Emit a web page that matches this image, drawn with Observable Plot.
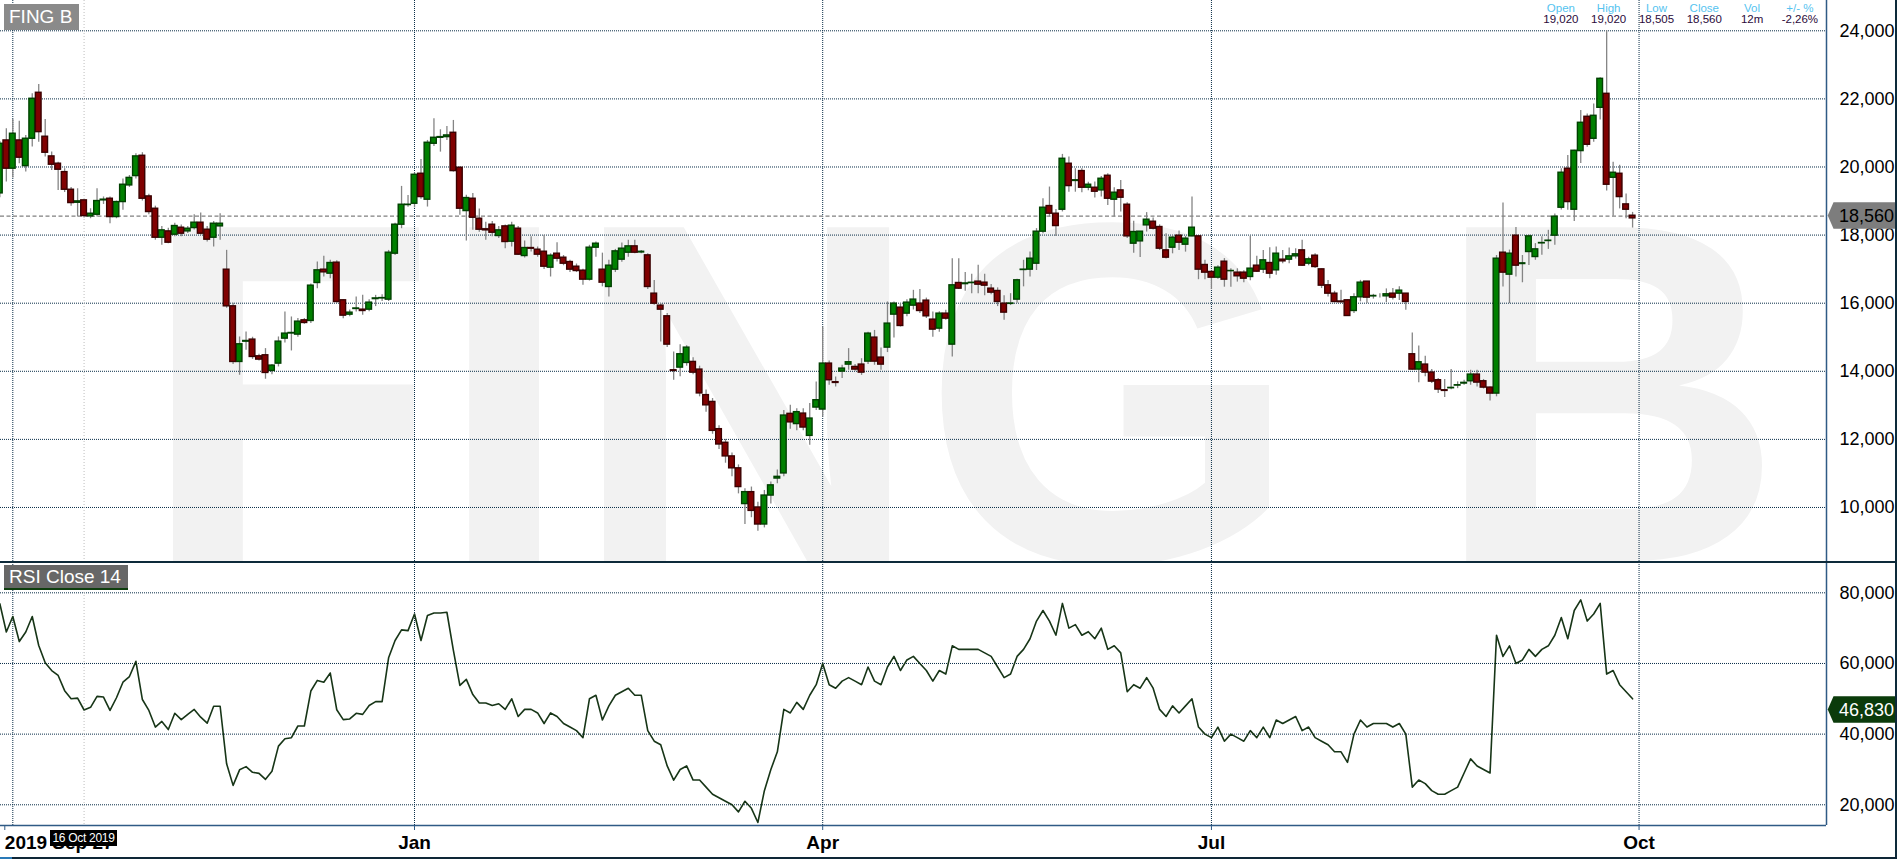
<!DOCTYPE html>
<html><head><meta charset="utf-8">
<script src="https://cdn.jsdelivr.net/npm/d3@7"></script>
<script src="https://cdn.jsdelivr.net/npm/@observablehq/plot@0.6"></script>
<style>
html,body{margin:0;padding:0;background:#fff}
#wrap{position:relative;width:1897px;height:859px;overflow:hidden;font-family:"Liberation Sans",Arial,sans-serif}
#wrap svg{overflow:hidden;display:block}
.abs{position:absolute}
#hdr{position:absolute;left:1537px;top:3px;display:flex}
#hdr .c{width:47.8px;text-align:center;font-size:11.5px;line-height:10.5px;white-space:nowrap}
#hdr .l{color:#55c3ef}
#hdr .v{color:#2b0b3b}
</style></head><body>
<div id="wrap">
  <div id="pricePanel" class="abs" style="left:0;top:0"></div>
  <div id="rsiPanel" class="abs" style="left:0;top:562px"></div>
  <div class="abs" style="left:0;top:561px;width:1897px;height:2px;background:#0d2a3a"></div>
  <div class="abs" style="left:1895px;top:0;width:2px;height:859px;background:#0d2a3a"></div>
  <div class="abs" style="left:0;top:857px;width:1897px;height:2px;background:#0e2636"></div>
  <div class="abs" style="left:0;top:857px;width:12px;height:2px;background:#2a7ab8"></div>
  <div class="abs" style="left:4px;top:4px;width:75px;height:26px;background:#8a8a8a;color:#fff;font-size:19px;line-height:26px;text-indent:5px">FING B</div>
  <div class="abs" style="left:4px;top:565px;width:124px;height:23px;border-bottom:2px solid #0d3d0d;background:#676767;color:#fff;font-size:19px;line-height:23px;text-indent:5px;white-space:nowrap">RSI Close 14</div>
  <div id="hdr"></div>
  <div id="tip" class="abs" style="left:50px;top:830px;width:67px;height:16px;background:#000;color:#fff;font-size:12px;letter-spacing:-0.3px;line-height:16px;text-align:center;white-space:nowrap"></div>
</div>
<script>
// ---------- data ----------
const openVals = [
19225,20780,19950,20780,20026,20830,22180,20889,20311,20097,
19850,19332,18950,19020,18549,18598,19020,19068,18530,18970,
19459,19733,20330,19136,18774,17923,18109,18011,18217,18109,
18207,18364,18158,17923,18256,16984,15908,14274,14870,14930,
14440,14470,14010,14225,14959,15110,15077,15497,15478,16593,
16984,16867,17190,16085,15663,15830,15810,15810,16120,16140,
16104,17454,18305,18882,18921,19802,19039,20683,20858,20878,
21005,19978,18706,19068,18481,18170,18305,17973,18256,17806,
18188,17385,17620,17571,17512,17043,17454,17336,17209,17072,
16955,16691,17630,16984,16476,16984,17278,17483,17669,17490,
17405,16280,15928,15615,14030,14108,14245,14275,14050,13300,
13100,12300,11900,11500,11150,10100,10450,10000,9500,10350,
10850,11000,12750,12450,12758,12103,12935,12876,14226,13680,
13991,14196,14128,14197,14284,14989,14402,14695,15664,15869,
15693,15928,15987,16075,15517,15253,15693,14783,16593,16560,
16590,16633,16603,16427,16358,15987,15980,16105,16975,16985,
17160,18100,18853,18628,18745,20096,19590,19880,19391,19391,
19313,19743,19039,19313,18892,17748,17816,18286,18393,18237,
17552,17630,17983,17718,17963,17963,17122,16917,16750,17219,
16940,16897,16897,16770,17102,16985,17180,16965,17278,17278,
17376,17552,17161,17395,16994,16525,16280,16050,16085,15771,
16173,16633,16200,16232,16202,16280,16280,16280,14500,14050,
14197,13962,13737,13443,13502,13580,13640,13707,13903,13707,
13521,13345,17483,16838,17983,17150,17503,17356,17757,17826,
17983,18804,19949,18745,20467,21475,20829,21739,22150,19684,
19802,18902,18569];
const highVals = [
20750,21124,21397,21347,20927,22151,22424,21397,20437,20143,
19950,19400,19361,19020,18774,19361,19120,19120,19000,19650,
19750,20390,20420,19200,18850,18250,18200,18350,18300,18250,
18600,18650,18250,18400,18630,17552,16000,15008,15155,15000,
14500,14666,14200,15008,15742,15595,15550,15550,16560,17209,
17376,17258,17250,16100,15800,16182,16231,16100,16230,16250,
17550,18350,19430,19166,19830,20222,20780,21416,21093,21191,
21367,20000,19170,19220,18770,18380,18400,18250,18300,18380,
18250,17825,17950,17650,17992,17450,17777,17400,17260,17150,
17000,17700,17800,17470,17260,17580,17770,17850,17850,17550,
17450,16670,15990,15700,14568,14780,14750,14400,14150,13450,
13200,12400,12000,11600,11250,10550,10600,10150,10500,10750,
11100,12850,13000,12900,12900,13052,13688,15302,14300,13830,
14180,14666,14200,14370,15150,15200,14686,16036,16036,15987,
16100,16378,16400,16150,15740,15750,15790,17307,17307,16900,
16850,17112,16850,16550,16450,16220,16280,16700,17260,17500,
18190,19068,19411,18750,20370,20290,19950,19950,19550,19560,
19720,19800,19390,19600,18950,18410,18100,18660,18500,18300,
18040,17990,18120,17960,19117,17970,17260,16950,17100,17310,
17010,17010,16950,17963,17380,17550,17630,17650,17550,17620,
17600,17846,17350,17450,17000,16670,16350,16380,16100,16280,
16670,16640,16260,16280,16420,16430,16480,16280,15126,14740,
14440,14050,13790,13760,14050,13690,13740,14030,14030,13760,
13540,17400,18941,17560,18220,17400,18000,17750,17950,18140,
18620,19950,20340,20490,21660,21560,21850,22620,23999,20140,
20050,19210,18667];
const lowVals = [
19100,19556,19674,20097,19850,20584,20730,20290,19900,19310,
19250,18850,18530,18505,18481,18530,18900,18334,18480,18730,
19400,19650,19000,18600,17850,17698,17747,17950,17950,18050,
18150,17990,17800,17650,17845,15850,14200,13883,14617,14350,
14300,13766,13900,14128,14832,14597,15000,15380,15400,16427,
16769,16720,16000,15546,15600,15742,15644,15750,15900,16050,
16050,17400,18188,18820,18800,19050,18824,20600,20437,20780,
19850,18580,17826,18139,18080,17850,17950,17900,17600,17650,
17400,17330,17500,17350,16990,16769,17210,17100,16900,16900,
16530,16650,17351,16480,16182,16900,17200,17350,17450,17450,
16400,15940,14862,14700,13737,13840,14150,13900,13250,12800,
12150,11700,11300,10900,10400,9500,9700,9300,9400,10100,
10700,10900,12300,12250,12250,11829,12850,12660,13590,13540,
13790,14030,14000,13880,14200,14177,14030,14550,14980,15300,
15600,15800,15700,15550,15000,15150,15500,14421,16400,16350,
16280,16280,16220,16250,15900,15500,15930,16000,16480,16770,
16960,18040,18530,17960,18680,19260,19260,19240,19300,19090,
19120,18870,18530,18680,17900,17470,17340,18090,18150,17550,
17300,17450,17550,17500,17950,16690,16690,16400,16700,16470,
16470,16620,16600,16660,16900,16870,16720,16820,17160,17160,
17300,17080,17100,17020,16430,16180,16000,15990,15620,15700,
16040,15990,16120,16150,16020,16090,16080,15790,14030,13660,
13840,13640,13350,13230,13460,13490,13590,13590,13540,13480,
13130,13250,16476,15987,16770,16600,17110,17260,17410,17580,
17700,18740,18730,18400,20100,20580,20730,21380,19293,18550,
18770,18480,18207];
const closeVals = [
20683,19950,20977,20273,20830,22004,21024,20419,20067,19920,
19332,18941,18990,18560,18628,19000,19040,18530,18970,19479,
19680,20311,19068,18677,17923,18139,17777,18266,18041,18187,
18364,18041,17865,18334,18334,15908,14274,14793,14890,14421,
14343,13951,14167,14871,15106,15125,15458,15419,16515,16965,
16906,17180,16035,15634,15722,15845,15771,16016,16140,16150,
17483,18305,18892,18892,19772,19117,20712,20858,20878,20927,
19880,18775,19088,18510,18158,18139,18070,18139,17797,18276,
17425,17620,17600,17425,17072,17395,17307,17160,16985,16945,
16691,17630,17747,16603,17102,17522,17601,17669,17483,17510,
16476,15986,15810,14783,14010,14500,14695,13960,13350,13000,
12250,11850,11500,11150,10600,10450,9900,9500,10350,10650,
10900,12700,12500,12800,12348,12612,13150,14226,13737,13658,
14079,14265,14050,13961,15106,14284,14196,15400,15987,15331,
16016,16105,15771,15615,15224,15693,15546,16525,16427,16580,
16600,16544,16515,16310,16036,15723,15990,16672,16985,17307,
18100,18804,18628,18266,20242,19440,19610,19391,19479,19274,
19655,19068,19245,19098,17963,18090,18100,18452,18188,17601,
17337,17924,17777,17895,18217,16985,16897,16750,17043,16691,
16946,16790,16720,17014,16926,17259,16867,17454,17229,17376,
17435,17102,17288,17063,16515,16280,16036,16030,15624,16173,
16603,16163,16212,16232,16261,16163,16368,16036,14050,14265,
13962,13697,13463,13424,13512,13590,13660,13903,13668,13521,
13345,17307,16897,17454,17102,17170,17963,17581,17767,17836,
18541,19832,18970,20477,21299,20653,21504,22590,19479,19831,
19117,18745,18491];
const rsiVals = [
76.9,68.9,73.3,66.2,68.9,73.3,65.1,60.2,58.0,56.6,
52.3,50.0,50.2,46.83,47.6,50.7,50.5,46.7,50.3,54.7,
56.3,60.6,49.8,46.7,42.0,43.6,41.3,45.9,44.1,45.6,
47.0,44.8,43.1,47.9,47.9,31.6,25.5,29.9,30.8,29.2,
28.9,27.2,29.5,36.6,38.7,39.0,42.3,42.3,52.2,55.2,
54.7,57.3,46.9,44.1,44.3,45.9,45.6,48.1,49.2,49.2,
61.6,66.5,69.5,69.3,74.0,66.5,73.6,74.3,74.3,74.5,
63.7,53.8,55.5,51.2,48.8,48.8,48.1,48.6,
47,50,45,47,47,46,43,46,45,43,
42,41,39,50,51,44,48,51,52,53,
51,51,41,38,37,31,27,30,31,27,
27,25,23,22,21,20,18,21,19,15,
24,30,35,47,46,49,47,51,54,60,
54,53,55,56,55,54,59,55,54,59,
62,58,61,62,60,58,55,58,57,65,
64,64,64,64,63,62,59,56,57,62,
64,67,72,75,72,68,77,70,71,68,
69,67,70,64,65,63,52,54,53,56,
53,47,45,48,46,48,50,42,40,39,
42,38,40,39,38,41,39,42,39,44,
43,44,45,41,42,39,38,37,35,35,
32,40,44,42,43,43,43,42,43,40,
25,27,26,24,23,23,24,25,29,33,
31,30,29,68,62,65,60,61,64,62,
64,65,68,73,67,75,78,72,74,77,
57,58,54,52,50];

const priceTicks = [10000,12000,14000,16000,18000,20000,22000,24000];
const rsiTicks = [20,40,60,80];
const firstTickIdx = 2;              // 1 Oct 2019 (trading-day index)
const firstTickLabel = "2019 Sep 27";
const dateTickIdx = [64,127,187,253]; // 2 Jan, 1 Apr, 1 Jul, 1 Oct 2020
const dateTickLabels = ["Jan","Apr","Jul","Oct"];
const hoverIdx = 13;                  // 16 Oct 2019
const hoverDate = "16 Oct 2019";
const hoverVol = "12m";
const hoverPct = "-2,26%";
const symbol = "FING B";

// ---------- build ----------
const candles = openVals.map((o,i)=>({i, open:o, high:highVals[i], low:lowVals[i], close:closeVals[i]}));
const rsi = rsiVals.map((v,i)=>({i, v}));
const xDomain = [0.1, 281.93];
const FONT = "'Liberation Sans', Arial, sans-serif";
const grid = {stroke:"#0a2e48", strokeDasharray:"1,1", strokeWidth:1};
const border = {stroke:"#2f5a85", strokeWidth:1.5};
const fmt = d3.format(",");

const price = Plot.plot({
  width:1897, height:562, marginLeft:0, marginRight:71, marginTop:0, marginBottom:0,
  style:{fontFamily:FONT, fontSize:"18px", background:"#fff", overflow:"hidden"},
  x:{domain:xDomain, axis:null},
  y:{domain:[8384, 24890], axis:null},
  marks:[
    Plot.text([symbol], {frameAnchor:"bottom-left", textAnchor:"start", lineAnchor:"bottom", dx:140, dy:-1.6,
      fontSize:485, fontWeight:"bold", fontFamily:FONT, fill:"#f2f2f2"}),
    Plot.ruleY(priceTicks, grid),
    Plot.ruleX([firstTickIdx, ...dateTickIdx], grid),
    Plot.ruleX([hoverIdx], {stroke:"#bdbdbd", strokeDasharray:"1,2"}),
    Plot.ruleY([closeVals[hoverIdx]], {stroke:"#808080", strokeDasharray:"4,2.5", strokeWidth:1.3}),
    Plot.ruleX(candles, {x:"i", y1:"low", y2:"high", stroke:"#858585", strokeWidth:1.3}),
    Plot.rect(candles, {filter:d=>d.close>=d.open, x1:d=>d.i-0.5, x2:d=>d.i+0.5, y1:"open", y2:"close",
      insetLeft:0.4, insetRight:0.4, fill:"#008000", stroke:"#004000", strokeWidth:1.4}),
    Plot.rect(candles, {filter:d=>d.close<d.open, x1:d=>d.i-0.5, x2:d=>d.i+0.5, y1:"open", y2:"close",
      insetLeft:0.4, insetRight:0.4, fill:"#800000", stroke:"#3a0000", strokeWidth:1.4}),
    Plot.ruleX([xDomain[1]], border),
    Plot.axisY({anchor:"right", label:null, ticks:priceTicks, tickSize:0, tickPadding:13, tickFormat:fmt, fontSize:18, fill:"#000"})
  ]
});

const rsiPlot = Plot.plot({
  width:1897, height:297, marginLeft:0, marginRight:71, marginTop:0, marginBottom:34,
  style:{fontFamily:FONT, fontSize:"18px", background:"#fff", overflow:"hidden"},
  x:{domain:xDomain, axis:null},
  y:{domain:[14.14, 88.58], axis:null},
  marks:[
    Plot.ruleY(rsiTicks, grid),
    Plot.ruleX([firstTickIdx, ...dateTickIdx], grid),
    Plot.ruleX([hoverIdx], {stroke:"#bdbdbd", strokeDasharray:"1,2"}),
    Plot.line(rsi, {x:"i", y:"v", stroke:"#173517", strokeWidth:1.6}),
    Plot.ruleX([xDomain[1]], border),
    Plot.ruleY([14.14], border),
    Plot.axisY({anchor:"right", label:null, ticks:rsiTicks, tickSize:0, tickPadding:13, tickFormat:d=>d+",000", fontSize:18, fill:"#000"}),
    Plot.axisX({label:null, ticks:dateTickIdx, tickFormat:d=>dateTickLabels[dateTickIdx.indexOf(d)], tickSize:5, tickPadding:5,
      fontSize:19, fontWeight:"bold", stroke:"#2f5a85", fill:"#000"}),
    Plot.axisX({label:null, ticks:[firstTickIdx], tickFormat:()=>firstTickLabel, textAnchor:"start", dx:-8, tickSize:5, tickPadding:5,
      fontSize:19, fontWeight:"bold", stroke:"#2f5a85", fill:"#000"})
  ]
});

function valueTag(svg, yPix, text, bg, fg) {
  const g = d3.select(svg).append("g").attr("text-anchor", "start");
  g.append("path").attr("d", `M1827.7,${yPix} L1833.5,${yPix-13.3} H1897 V${yPix+13.3} H1833.5 Z`)
    .attr("fill", bg).attr("stroke", "none");
  g.append("text").attr("x", 1839).attr("y", yPix).attr("dy", "0.36em").attr("fill", fg)
    .attr("text-anchor", "start").attr("font-size", 18).attr("font-family", FONT).text(text);
}
valueTag(price, price.scale("y").apply(closeVals[hoverIdx]), fmt(closeVals[hoverIdx]), "#7d7d7d", "#000");
valueTag(rsiPlot, rsiPlot.scale("y").apply(rsiVals[hoverIdx]), d3.format(".3f")(rsiVals[hoverIdx]).replace(".", ","), "#0b3b0b", "#fff");

document.getElementById("pricePanel").appendChild(price);
document.getElementById("rsiPanel").appendChild(rsiPlot);

// header (hovered bar)
const hdrLabels = ["Open","High","Low","Close","Vol","+/- %"];
const hdrValues = [fmt(openVals[hoverIdx]), fmt(highVals[hoverIdx]), fmt(lowVals[hoverIdx]), fmt(closeVals[hoverIdx]), hoverVol, hoverPct];
const hdr = d3.select("#hdr");
hdrLabels.forEach((l,k)=>{
  const c = hdr.append("div").attr("class","c");
  c.append("div").attr("class","l").text(l);
  c.append("div").attr("class","v").text(hdrValues[k]);
});
document.getElementById("tip").textContent = hoverDate;
</script>
</body></html>
